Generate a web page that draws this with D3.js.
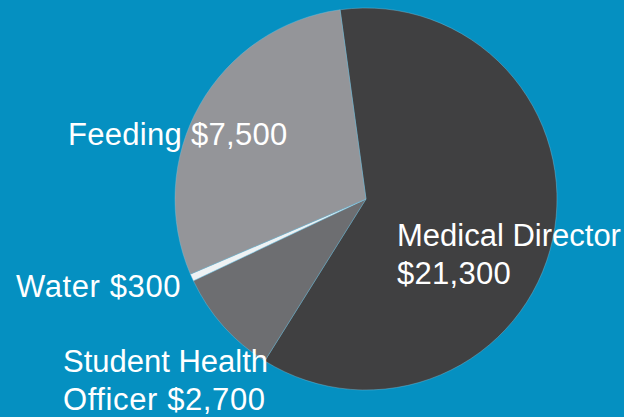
<!DOCTYPE html>
<html>
<head>
<meta charset="utf-8">
<script src="https://cdn.jsdelivr.net/npm/d3@7"></script>
<style>
  body { margin: 0; background: #0590c1; }
  svg { display: block; }
  text { font-family: "Liberation Sans", Arial, sans-serif; fill: #fff; }
</style>
</head>
<body>
<div id="chart"></div>
<script>
var svgWidth = 624;
var svgHeight = 417;

// slices in drawing order (clockwise from just left of 12 o'clock)
var categories = ["Medical Director", "Student Health Officer", "Water", "Feeding"];
var amounts = ["$21,300", "$2,700", "$300", "$7,500"];
// share of the circle each slice takes as drawn (percent)
var shares = [61.06, 9.06, 0.61, 29.27];
var colors = ["#404041", "#6d6e71", "#eef2f4", "#949599"];

var labelLines = [
  ["Medical Director", "$21,300"],
  ["Student Health", "Officer $2,700"],
  ["Water $300"],
  ["Feeding $7,500"]
];
var labelPos = [[397, 246], [63, 372], [16, 297], [68, 145]];
// per-line letter spacing to follow the original's wider digits
var lineSpacing = [[0, 0.3], [0, 0.6], [0.6], [0.3]];

var cx = 366, cy = 199, radius = 191;

var svg = d3.select("#chart")
  .append("svg")
  .attr("width", svgWidth)
  .attr("height", svgHeight);

svg.append("rect")
  .attr("width", svgWidth)
  .attr("height", svgHeight)
  .attr("fill", "#0590c1");

var data = categories.map(function(c, i) {
  return {name: c, amount: amounts[i], share: shares[i], color: colors[i]};
});

var startA = -7.8 * Math.PI / 180;

var pie = d3.pie()
  .sort(null)
  .value(d => d.share)
  .startAngle(startA)
  .endAngle(startA + 2 * Math.PI);

var arc = d3.arc()
  .innerRadius(0)
  .outerRadius(radius);

var chartGroup = svg.append("g")
  .attr("transform", `translate(${cx}, ${cy})`);

chartGroup.selectAll("path")
  .data(pie(data))
  .enter()
  .append("path")
  .attr("d", arc)
  .attr("fill", d => d.data.color)
  .attr("stroke", "#7fc3df")
  .attr("stroke-width", 0.4);

var labels = svg.append("g")
  .attr("font-size", 31);

labelLines.forEach(function(lines, i) {
  var t = labels.append("text")
    .attr("x", labelPos[i][0])
    .attr("y", labelPos[i][1]);
  lines.forEach(function(line, j) {
    t.append("tspan")
      .attr("x", labelPos[i][0])
      .attr("dy", j === 0 ? 0 : 38)
      .attr("letter-spacing", lineSpacing[i][j])
      .text(line);
  });
});
</script>
</body>
</html>
